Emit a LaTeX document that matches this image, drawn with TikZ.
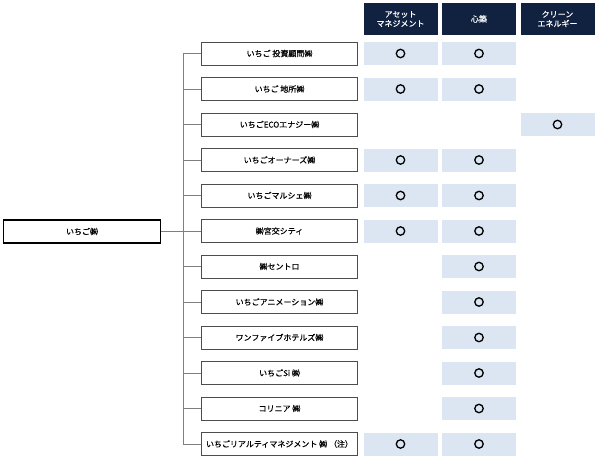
\documentclass[tikz,border=0pt]{standalone}
\usepackage{fontspec}
\setmainfont{Noto Sans CJK JP}[FakeBold=0.5]
\definecolor{headnavy}{HTML}{10223F}
\definecolor{cellblue}{HTML}{DCE6F2}
\definecolor{boxgray}{HTML}{4D4D4D}
\definecolor{linegray}{HTML}{7F7F7F}

\begin{document}
\begin{tikzpicture}[x=0.75pt,y=0.75pt,yscale=-1,xscale=1,
  every node/.style={font=\fontsize{6pt}{7pt}\selectfont},
  company/.style={draw=boxgray,line width=0.75pt,fill=white,minimum width=117.5pt,minimum height=17.25pt,inner sep=0pt},
  parent/.style={draw=black,line width=1pt,fill=white,minimum width=118pt,minimum height=17.25pt,inner sep=0pt},
  header/.style={fill=headnavy,text=white,minimum width=55.5pt,minimum height=24pt,inner sep=0pt,align=center},
  cell/.style={fill=cellblue,minimum width=55.5pt,minimum height=17.25pt,inner sep=0pt},
  maru/.style={circle,draw=black,line width=1pt,minimum size=6.3pt,inner sep=0pt},
  link/.style={draw=linegray,line width=0.75pt}]
\useasboundingbox (0,0) rectangle (597,458);

% column headers
\node[header] (headA) at (400.5,19) {アセット\\マネジメント};
\node[header] (headS) at (479,19) {心築};
\node[header] (headC) at (557.5,19) {クリーン\\エネルギー};

% parent company
\node[parent] (root) at (82,231.5) {いちご㈱};

% group companies
\foreach \name [count=\i] in {いちご 投資顧問㈱,いちご 地所㈱,いちごECOエナジー㈱,いちごオーナーズ㈱,いちごマルシェ㈱,㈱宮交シティ,㈱セントロ,いちごアニメーション㈱,ワンファイブホテルズ㈱,いちごSi ㈱,コリニア ㈱,いちごリアルティマネジメント ㈱ （注）}
  \node[company] (co\i) at (279.5,{53.5+35.5*(\i-1)}) {\name};

% business marks
\foreach \r/\c/\x in {1/A/400.5,1/S/479,2/A/400.5,2/S/479,3/C/557.5,4/A/400.5,4/S/479,5/A/400.5,5/S/479,6/A/400.5,6/S/479,7/S/479,8/S/479,9/S/479,10/S/479,11/S/479,12/A/400.5,12/S/479}
{
  \node[cell] (cell\c\r) at (\x,{53.5+35.5*(\r-1)}) {};
  \node[maru] at (cell\c\r) {};
}

% tree lines
\coordinate (spine) at (183,0);
\draw[link] (co1.west -| spine) -- (co12.west -| spine);
\draw[link] (root.east) -- (root.east -| spine);
\foreach \i in {1,...,12}
  \draw[link] (co\i.west -| spine) -- (co\i.west);

\end{tikzpicture}
\end{document}
